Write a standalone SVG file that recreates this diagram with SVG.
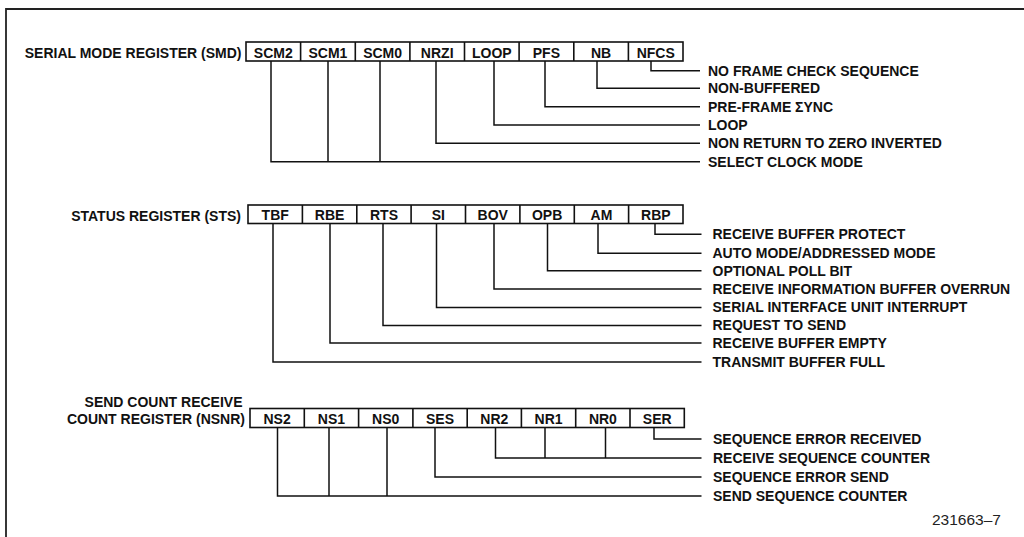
<svg xmlns="http://www.w3.org/2000/svg" width="1024" height="537" viewBox="0 0 1024 537">
<style>
  .bg { fill: #ffffff; }
  .frame { fill: none; stroke: #222; stroke-width: 1.8; }
  .cell { fill: #ffffff; stroke: #111; stroke-width: 1.6; }
  .ct { font-family: "Liberation Sans", Arial, sans-serif; font-weight: bold; font-size: 14px; fill: #111; text-anchor: middle; }
  .rl { font-family: "Liberation Sans", Arial, sans-serif; font-weight: bold; font-size: 14px; fill: #111; text-anchor: end; }
  .lbl { font-family: "Liberation Sans", Arial, sans-serif; font-weight: bold; font-size: 14px; fill: #111; }
  .fig { font-family: "Liberation Sans", Arial, sans-serif; font-size: 15.5px; fill: #222; }
  .conn path { fill: none; stroke: #111; stroke-width: 1.5; }
</style>
<rect class="bg" x="0" y="0" width="1024" height="537"/>
<path class="frame" d="M6,537 V9 H1024"/>

<g id="smd">
  <text class="rl" x="241.5" y="58">SERIAL MODE REGISTER (SMD)</text>
  <rect class="cell" x="246" y="42" width="437" height="19"/>
  <path class="cell" d="M300.6,42V61 M355.3,42V61 M409.9,42V61 M464.5,42V61 M519.1,42V61 M573.8,42V61 M628.4,42V61"/>
  <text class="ct" x="273.3" y="57.5">SCM2</text>
  <text class="ct" x="327.9" y="57.5">SCM1</text>
  <text class="ct" x="382.6" y="57.5">SCM0</text>
  <text class="ct" x="437.2" y="57.5">NRZI</text>
  <text class="ct" x="491.8" y="57.5">LOOP</text>
  <text class="ct" x="546.4" y="57.5">PFS</text>
  <text class="ct" x="601.1" y="57.5">NB</text>
  <text class="ct" x="655.7" y="57.5">NFCS</text>
</g>
<g id="smd-labels">
  <text class="lbl" x="708" y="75.5">NO FRAME CHECK SEQUENCE</text>
  <text class="lbl" x="708" y="93">NON-BUFFERED</text>
  <text class="lbl" x="708" y="111.5">PRE-FRAME ΣYNC</text>
  <text class="lbl" x="708" y="130">LOOP</text>
  <text class="lbl" x="708" y="148">NON RETURN TO ZERO INVERTED</text>
  <text class="lbl" x="708" y="166.5">SELECT CLOCK MODE</text>
</g>

<g id="sts">
  <text class="rl" x="241" y="220.5">STATUS REGISTER (STS)</text>
  <rect class="cell" x="248" y="205" width="435" height="18.5"/>
  <path class="cell" d="M302.4,205V223.5 M356.8,205V223.5 M411.1,205V223.5 M465.5,205V223.5 M519.9,205V223.5 M574.3,205V223.5 M628.6,205V223.5"/>
  <text class="ct" x="275.2" y="220">TBF</text>
  <text class="ct" x="329.6" y="220">RBE</text>
  <text class="ct" x="384" y="220">RTS</text>
  <text class="ct" x="438.3" y="220">SI</text>
  <text class="ct" x="492.7" y="220">BOV</text>
  <text class="ct" x="547.1" y="220">OPB</text>
  <text class="ct" x="601.5" y="220">AM</text>
  <text class="ct" x="655.8" y="220">RBP</text>
</g>
<g id="sts-labels">
  <text class="lbl" x="712.5" y="239">RECEIVE BUFFER PROTECT</text>
  <text class="lbl" x="712.5" y="258">AUTO MODE/ADDRESSED MODE</text>
  <text class="lbl" x="712.5" y="275.5">OPTIONAL POLL BIT</text>
  <text class="lbl" x="712.5" y="294">RECEIVE INFORMATION BUFFER OVERRUN</text>
  <text class="lbl" x="712.5" y="312">SERIAL INTERFACE UNIT INTERRUPT</text>
  <text class="lbl" x="712.5" y="330">REQUEST TO SEND</text>
  <text class="lbl" x="712.5" y="348">RECEIVE BUFFER EMPTY</text>
  <text class="lbl" x="712.5" y="367">TRANSMIT BUFFER FULL</text>
</g>

<g id="nsnr">
  <text class="rl" x="242.5" y="407">SEND COUNT RECEIVE</text>
  <text class="rl" x="245" y="423.5">COUNT REGISTER (NSNR)</text>
  <rect class="cell" x="250" y="408.5" width="434.3" height="19"/>
  <path class="cell" d="M304.3,408.5V427.5 M358.6,408.5V427.5 M412.9,408.5V427.5 M467.2,408.5V427.5 M521.4,408.5V427.5 M575.7,408.5V427.5 M630,408.5V427.5"/>
  <text class="ct" x="277.1" y="423.5">NS2</text>
  <text class="ct" x="331.4" y="423.5">NS1</text>
  <text class="ct" x="385.7" y="423.5">NS0</text>
  <text class="ct" x="440" y="423.5">SES</text>
  <text class="ct" x="494.3" y="423.5">NR2</text>
  <text class="ct" x="548.6" y="423.5">NR1</text>
  <text class="ct" x="602.9" y="423.5">NR0</text>
  <text class="ct" x="657.2" y="423.5">SER</text>
</g>
<g id="nsnr-labels">
  <text class="lbl" x="713" y="444">SEQUENCE ERROR RECEIVED</text>
  <text class="lbl" x="713" y="463">RECEIVE SEQUENCE COUNTER</text>
  <text class="lbl" x="713" y="482">SEQUENCE ERROR SEND</text>
  <text class="lbl" x="713" y="501">SEND SEQUENCE COUNTER</text>
</g>

<g class="conn" id="connectors">
  <path d="M651,61 V70.7 H700"/>
  <path d="M597,61 V88.3 H700"/>
  <path d="M545,61 V106.7 H700"/>
  <path d="M494,61 V125 H700"/>
  <path d="M436,61 V143.3 H700"/>
  <path d="M271,61 V161.7 H700 M328,61 V161.7 M380,61 V161.7"/>

  <path d="M655,223.5 V234.3 H701.5"/>
  <path d="M598,223.5 V253.3 H701.5"/>
  <path d="M547.5,223.5 V270.7 H701.5"/>
  <path d="M494,223.5 V289 H701.5"/>
  <path d="M436.5,223.5 V307.5 H701.5"/>
  <path d="M383,223.5 V325.5 H701.5"/>
  <path d="M330,223.5 V343 H701.5"/>
  <path d="M273,223.5 V362 H701.5"/>

  <path d="M654,427.5 V439 H701.5"/>
  <path d="M495.5,427.5 V458 H701.5 M545,427.5 V458 M605.5,427.5 V458"/>
  <path d="M435,427.5 V477 H701.5"/>
  <path d="M277.5,427.5 V496 H701.5 M329,427.5 V496 M387,427.5 V496"/>
</g>

<text class="fig" x="932" y="525">231663–7</text>
</svg>
